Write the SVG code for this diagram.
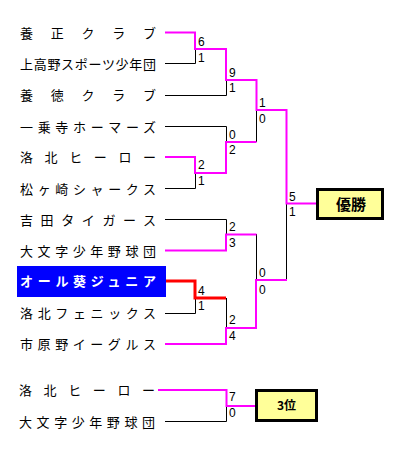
<svg xmlns="http://www.w3.org/2000/svg" width="400" height="450" viewBox="0 0 400 450">
<style>
.name{font-family:"Noto Sans CJK JP","DejaVu Sans",sans-serif;font-size:13px;fill:#000}
.sel{fill:#fff;font-weight:bold}
.sc{font-family:"Liberation Sans",Arial,sans-serif;font-size:12px;fill:#000}
.blk{fill:none;stroke:#000;stroke-width:1}
.pk{fill:none;stroke:#ff00ff;stroke-width:2}
.rd{fill:none;stroke:#ff0000;stroke-width:3}
.box{fill:#ffff99;stroke:#000;stroke-width:3}
.bt{font-family:"Noto Sans CJK JP","DejaVu Sans",sans-serif;font-weight:bold;fill:#000;text-anchor:middle}
</style>
<rect width="400" height="450" fill="#fff"/>
<g id="connectors">
<path class="blk" d="M165 63.5H195.5V49M165 95.5H226.5V80M165 126.5H226.5V142M165 188.5H195.5V173M256.5 110V142M286.5 203V280M165 219.5H226.5V234M256.5 234V280M226.5 298V328M165 313.5H195.5V298M165 421.5H226.5V406"/>
<path class="pk" d="M165 32.5H195V49H226V80H256.5V110H286.5V203.5H316"/>
<path class="pk" d="M165 157H195V173H226V142H256.5"/>
<path class="pk" d="M165 250.5H226V234.5H256.5"/>
<path class="pk" d="M165 344H226V328H256V280H287"/>
<path class="rd" d="M165 281H195V298H226"/>
<path class="pk" d="M158 390H226.5V406H256"/>
</g>
<g id="scores" class="sc">
<text x="198" y="45.5">6</text><text x="198" y="62">1</text>
<text x="198" y="168.5">2</text><text x="198" y="185">1</text>
<text x="198" y="294.5">4</text><text x="198" y="310">1</text>
<text x="229" y="76.5">9</text><text x="229" y="92">1</text>
<text x="229" y="138.5">0</text><text x="229" y="153.5">2</text>
<text x="229" y="230.5">2</text><text x="229" y="247">3</text>
<text x="229" y="323.5">2</text><text x="229" y="339.5">4</text>
<text x="259" y="107">1</text><text x="259" y="123">0</text>
<text x="259" y="277">0</text><text x="259" y="294">0</text>
<text x="289" y="200.5">5</text><text x="289" y="216">1</text>
<text x="229" y="401">7</text><text x="229" y="417">0</text>
</g>
<g id="t0"><text class="name" x="20" y="37.5" textLength="136" lengthAdjust="spacing">養正クラブ</text></g>
<g id="t1"><text class="name" x="20" y="68.5" textLength="136" lengthAdjust="spacing">上高野スポーツ少年団</text></g>
<g id="t2"><text class="name" x="20" y="100" textLength="136" lengthAdjust="spacing">養徳クラブ</text></g>
<g id="t3"><text class="name" x="20" y="131.5" textLength="136" lengthAdjust="spacing">一乗寺ホーマーズ</text></g>
<g id="t4"><text class="name" x="20" y="162" textLength="136" lengthAdjust="spacing">洛北ヒーロー</text></g>
<g id="t5"><text class="name" x="20" y="193.5" textLength="136" lengthAdjust="spacing">松ヶ崎シャークス</text></g>
<g id="t6"><text class="name" x="20" y="224.5" textLength="136" lengthAdjust="spacing">吉田タイガース</text></g>
<g id="t7"><text class="name" x="20" y="255.5" textLength="136" lengthAdjust="spacing">大文字少年野球団</text></g>
<g id="t8"><rect x="17" y="266" width="149" height="31" fill="#0000ff"/><text class="name sel" x="20" y="286" textLength="136" lengthAdjust="spacing">オール葵ジュニア</text></g>
<g id="t9"><text class="name" x="20" y="318" textLength="136" lengthAdjust="spacing">洛北フェニックス</text></g>
<g id="t10"><text class="name" x="20" y="349" textLength="136" lengthAdjust="spacing">市原野イーグルス</text></g>
<g id="t3a"><text class="name" x="19" y="395" textLength="136" lengthAdjust="spacing">洛北ヒーロー</text></g>
<g id="t3b"><text class="name" x="19" y="426.5" textLength="136" lengthAdjust="spacing">大文字少年野球団</text></g>
<g id="champion"><rect class="box" x="317.5" y="189.5" width="65" height="29"/><text class="bt" x="351" y="210" font-size="15">優勝</text></g>
<g id="third"><rect class="box" x="256.5" y="390.5" width="60" height="30"/><text class="bt" x="286.5" y="410" font-size="12">3位</text></g>
</svg>
